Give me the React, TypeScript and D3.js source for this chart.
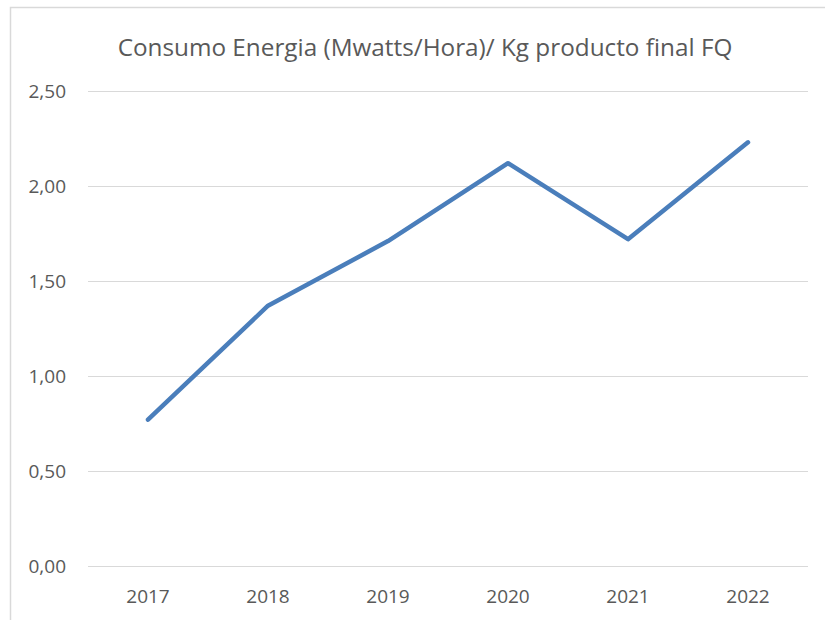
import React, { useEffect, useRef } from "react";
import * as d3 from "d3";

const years = ["2017", "2018", "2019", "2020", "2021", "2022"];
const consumo = [0.77, 1.37, 1.71, 2.12, 1.72, 2.23];
const yTicks = [0, 0.5, 1, 1.5, 2, 2.5];

const App: React.FC = () => {
  const svgRef = useRef<SVGSVGElement | null>(null);

  useEffect(() => {
    if (!svgRef.current) return;
    const width = 825;
    const height = 620;
    const margin = { top: 91, right: 17, bottom: 54, left: 88 };
    const font = "'Open Sans', sans-serif";

    const svg = d3.select(svgRef.current);
    svg.selectAll("*").remove();

    // chart area border
    svg
      .append("rect")
      .attr("x", 10.5)
      .attr("y", 7.5)
      .attr("width", 830)
      .attr("height", 640)
      .attr("fill", "white")
      .attr("stroke", "#d9d9d9")
      .attr("stroke-width", 1.5);

    const x = d3
      .scaleBand()
      .domain(years)
      .range([margin.left, width - margin.right]);

    const y = d3
      .scaleLinear()
      .domain([0, 2.5])
      .range([height - margin.bottom, margin.top]);

    const fmt = (v: number) => v.toFixed(2).replace(".", ",");

    // gridlines
    svg
      .append("g")
      .selectAll("line")
      .data(yTicks)
      .join("line")
      .attr("x1", margin.left)
      .attr("x2", width - margin.right)
      .attr("y1", (d) => Math.round(y(d)) + 0.5)
      .attr("y2", (d) => Math.round(y(d)) + 0.5)
      .attr("stroke", "#d9d9d9")
      .attr("stroke-width", 1.2);

    // y tick labels
    svg
      .append("g")
      .selectAll("text")
      .data(yTicks)
      .join("text")
      .attr("x", 66)
      .attr("y", (d) => y(d) + 7)
      .attr("text-anchor", "end")
      .attr("font-family", font)
      .attr("font-size", "19px")
      .attr("fill", "#595959")
      .text((d) => fmt(d));

    // x labels
    svg
      .append("g")
      .selectAll("text")
      .data(years)
      .join("text")
      .attr("x", (d) => (x(d) || 0) + x.bandwidth() / 2)
      .attr("y", height - margin.bottom + 37)
      .attr("text-anchor", "middle")
      .attr("font-family", font)
      .attr("font-size", "19px")
      .attr("fill", "#595959")
      .text((d) => d);

    // line
    const line = d3
      .line<number>()
      .x((_, i) => (x(years[i]) || 0) + x.bandwidth() / 2)
      .y((d) => y(d));

    svg
      .append("path")
      .datum(consumo)
      .attr("d", line)
      .attr("fill", "none")
      .attr("stroke", "#4a7ebb")
      .attr("stroke-width", 4.5)
      .attr("stroke-linecap", "round")
      .attr("stroke-linejoin", "round");

    // title
    svg
      .append("text")
      .attr("x", 425)
      .attr("y", 56)
      .attr("text-anchor", "middle")
      .attr("font-family", font)
      .attr("font-size", "24.3px")
      .attr("fill", "#595959")
      .text("Consumo Energia (Mwatts/Hora)/ Kg producto final FQ");
  }, []);

  return (
    <svg
      ref={svgRef}
      width={825}
      height={620}
      style={{ position: "absolute", left: 0, top: 0 }}
    ></svg>
  );
};

export default App;
